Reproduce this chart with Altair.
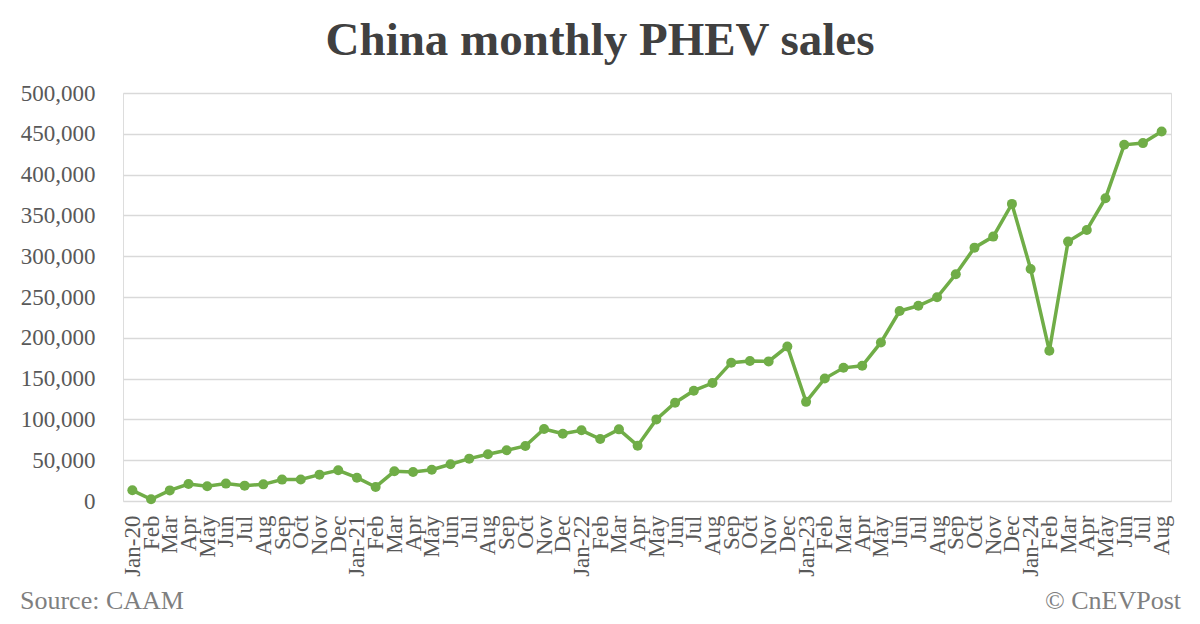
import altair as alt
import pandas as pd

month_labels = [
    "Jan-20", "Feb", "Mar", "Apr", "May", "Jun", "Jul", "Aug", "Sep", "Oct", "Nov", "Dec",
    "Jan-21", "Feb", "Mar", "Apr", "May", "Jun", "Jul", "Aug", "Sep", "Oct", "Nov", "Dec",
    "Jan-22", "Feb", "Mar", "Apr", "May", "Jun", "Jul", "Aug", "Sep", "Oct", "Nov", "Dec",
    "Jan-23", "Feb", "Mar", "Apr", "May", "Jun", "Jul", "Aug", "Sep", "Oct", "Nov", "Dec",
    "Jan-24", "Feb", "Mar", "Apr", "May", "Jun", "Jul", "Aug",
]

sales = [
    13100, 2100, 13000, 20800, 18000, 21300, 18800, 20400, 26200, 26400, 32300, 37600,
    28600, 17200, 36400, 35500, 38400, 45000, 51900, 57200, 62100, 67400, 88200, 82500,
    86600, 75900, 87800, 67800, 100000, 120500, 135200, 144500, 169500, 171500, 171100, 189300,
    121500, 150100, 163200, 165700, 194300, 232800, 239300, 249600, 277800, 310500, 324000, 364100,
    284300, 184100, 317900, 332200, 371100, 436500, 438600, 452900,
]

y_ticks = [0, 50000, 100000, 150000, 200000, 250000, 300000, 350000, 400000, 450000, 500000]

title_text = "China monthly PHEV sales"
source_text = "Source: CAAM"
credit_text = "© CnEVPost"

GREEN = "#70AD47"
SERIF = "Liberation Serif"

df = pd.DataFrame({
    "key": [f"{i:02d}|{lab}" for i, lab in enumerate(month_labels)],
    "sales": sales,
})

line = alt.Chart(df).mark_line(
    color=GREEN,
    strokeWidth=3.5,
    point=alt.OverlayMarkDef(size=100, filled=True, color=GREEN, opacity=1),
).encode(
    x=alt.X(
        "key:O",
        sort=None,
        scale=alt.Scale(type="point", padding=0.5),
        axis=alt.Axis(
            title=None,
            labelExpr="split(datum.value, '|')[1]",
            labelAngle=270,
            labelFont=SERIF,
            labelFontSize=23,
            labelColor="#595959",
            labelPadding=14,
            labelOverlap=False,
            labelBound=False,
            ticks=False,
            domain=False,
            grid=False,
        ),
    ),
    y=alt.Y(
        "sales:Q",
        scale=alt.Scale(domain=[0, 500000], nice=False, zero=True),
        axis=alt.Axis(
            title=None,
            values=y_ticks,
            format=",.0f",
            labelFont=SERIF,
            labelFontSize=23,
            labelColor="#595959",
            labelPadding=28,
            ticks=False,
            domain=False,
            grid=True,
            gridColor="#d9d9d9",
            gridWidth=1.3,
        ),
    ),
)

title = alt.Chart(pd.DataFrame({"t": [title_text]})).mark_text(
    font=SERIF, fontSize=47, fontWeight="bold", color="#404040",
    align="center", baseline="alphabetic",
).encode(x=alt.value(477), y=alt.value(-38), text="t:N")

source = alt.Chart(pd.DataFrame({"t": [source_text]})).mark_text(
    font=SERIF, fontSize=26, color="#7f7f7f", align="left", baseline="alphabetic"
).encode(x=alt.value(-103), y=alt.value(516), text="t:N")

credit = alt.Chart(pd.DataFrame({"t": [credit_text]})).mark_text(
    font=SERIF, fontSize=26, color="#7f7f7f", align="right", baseline="alphabetic"
).encode(x=alt.value(1058), y=alt.value(516), text="t:N")

chart = alt.layer(line, title, source, credit).properties(
    width=1048,
    height=408,
    autosize=alt.AutoSizeParams(type="none"),
    padding={"left": 115, "top": 85, "right": 21, "bottom": 115},
).configure_view(stroke=None).configure(background="white")

chart.save("out.html", embed_options={"renderer": "svg", "actions": False})
